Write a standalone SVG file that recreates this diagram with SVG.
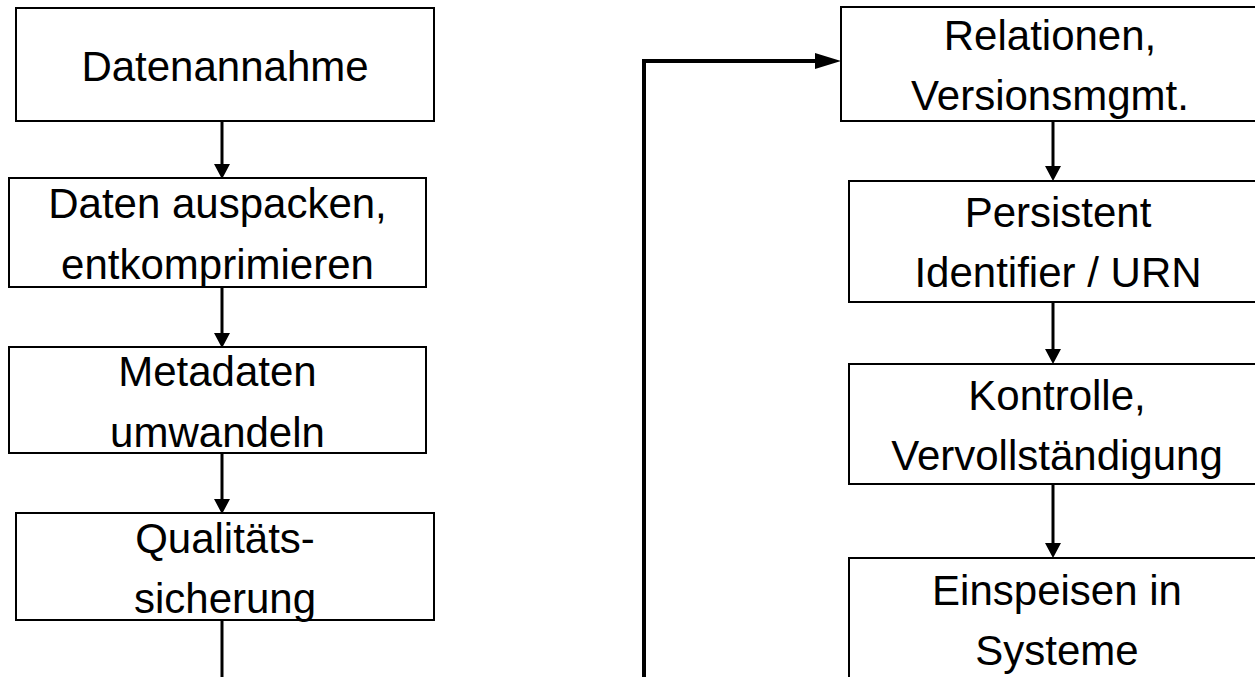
<svg xmlns="http://www.w3.org/2000/svg" width="1255" height="677" viewBox="0 0 1255 677">
  <style>
    .box { fill: #ffffff; stroke: #000000; stroke-width: 2; }
    .lbl { font-family: "Liberation Sans", Arial, sans-serif; font-size: 42px; fill: #000000; text-anchor: middle; }
    .conn { fill: none; stroke: #000000; stroke-width: 3; }
    .loop { fill: none; stroke: #000000; stroke-width: 4; }
  </style>
  <defs>
    <marker id="ah" markerUnits="userSpaceOnUse" markerWidth="16" markerHeight="18" refX="0" refY="8" orient="auto">
      <path d="M0,0 L15,8 L0,16 Z" fill="#000000"/>
    </marker>
    <marker id="ahLong" markerUnits="userSpaceOnUse" markerWidth="28" markerHeight="18" refX="0" refY="8" orient="auto">
      <path d="M0,0 L26,8 L0,16 Z" fill="#000000"/>
    </marker>
  </defs>
  <rect width="1255" height="677" fill="#ffffff"/>

  <g id="connectors">
    <line class="conn" x1="222" y1="121" x2="222" y2="164" marker-end="url(#ah)"/>
    <line class="conn" x1="222" y1="287" x2="222" y2="333" marker-end="url(#ah)"/>
    <line class="conn" x1="222" y1="453" x2="222" y2="499" marker-end="url(#ah)"/>
    <line class="conn" x1="222" y1="620" x2="222" y2="677"/>
    <path class="loop" d="M644,677 V61 H815" marker-end="url(#ahLong)"/>
    <line class="conn" x1="1053" y1="121" x2="1053" y2="166" marker-end="url(#ah)"/>
    <line class="conn" x1="1053" y1="302" x2="1053" y2="349" marker-end="url(#ah)"/>
    <line class="conn" x1="1053" y1="484" x2="1053" y2="543" marker-end="url(#ah)"/>
  </g>

  <g id="node-datenannahme">
    <rect class="box" x="16" y="8" width="418" height="113"/>
    <text class="lbl" x="225" y="81">Datenannahme</text>
  </g>
  <g id="node-auspacken">
    <rect class="box" x="9" y="178" width="417" height="109"/>
    <text class="lbl" x="217.5" y="218">Daten auspacken,</text>
    <text class="lbl" x="217.5" y="279">entkomprimieren</text>
  </g>
  <g id="node-metadaten">
    <rect class="box" x="9" y="347" width="417" height="106"/>
    <text class="lbl" x="217.5" y="386">Metadaten</text>
    <text class="lbl" x="217.5" y="447">umwandeln</text>
  </g>
  <g id="node-qualitaet">
    <rect class="box" x="16" y="513" width="418" height="107"/>
    <text class="lbl" x="225" y="553">Qualitäts-</text>
    <text class="lbl" x="225" y="613">sicherung</text>
  </g>

  <g id="node-relationen">
    <rect class="box" x="841" y="7" width="418" height="114"/>
    <text class="lbl" x="1050" y="50">Relationen,</text>
    <text class="lbl" x="1050" y="110">Versionsmgmt.</text>
  </g>
  <g id="node-persistent">
    <rect class="box" x="849" y="181" width="417" height="121"/>
    <text class="lbl" x="1058" y="227">Persistent</text>
    <text class="lbl" x="1058" y="287">Identifier / URN</text>
  </g>
  <g id="node-kontrolle">
    <rect class="box" x="849" y="364" width="417" height="120"/>
    <text class="lbl" x="1057" y="410">Kontrolle,</text>
    <text class="lbl" x="1057" y="470">Vervollständigung</text>
  </g>
  <g id="node-einspeisen">
    <rect class="box" x="849" y="558" width="417" height="140"/>
    <text class="lbl" x="1057" y="605">Einspeisen in</text>
    <text class="lbl" x="1057" y="665">Systeme</text>
  </g>
</svg>
